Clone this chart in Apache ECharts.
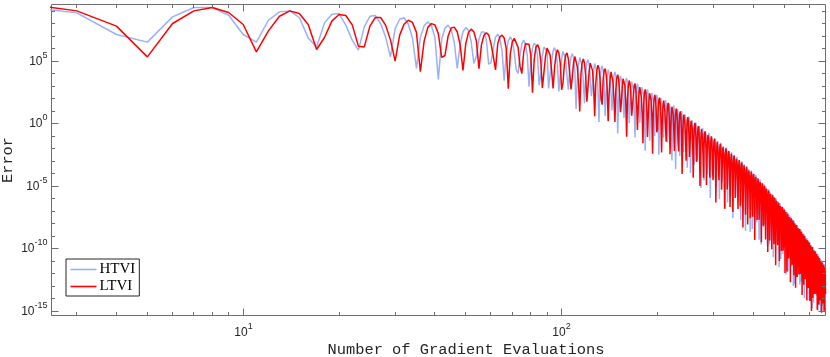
<!DOCTYPE html>
<html>
<head>
<meta charset="utf-8">
<script src="https://cdn.jsdelivr.net/npm/echarts@6/dist/echarts.min.js"></script>
<style>
html,body{margin:0;padding:0;background:#ffffff;}
#chart{width:830px;height:357px;}
</style>
</head>
<body>
<div id="chart"></div>
<script>
// ---------- data (values are log10 of the error) ----------
const firstEvaluation = 2;   // x of the first entry; each next entry is one more evaluation
const seriesNames = ['HTVI', 'LTVI'];

const htviLog10 = [
9.38,8.86,7.13,6.52,8.54,9.29,9.29,8.67,7.13,6.52,
8.27,8.94,9.02,8.49,6.86,6.14,8.06,8.75,8.81,7.88,
6.68,5.88,7.74,8.59,8.65,8.01,6.94,5.34,7.60,8.35,
8.47,7.95,6.85,4.42,6.90,7.84,8.14,7.85,6.90,3.54,
6.73,7.63,7.88,7.50,6.50,4.42,6.34,7.35,7.68,7.45,
6.55,4.82,5.42,6.72,7.34,7.34,6.72,4.76,4.86,6.01,
6.91,7.16,6.80,5.80,3.43,5.69,6.64,6.94,6.64,5.70,
4.30,4.02,5.43,6.38,6.68,6.38,5.45,2.95,4.96,6.00,
6.44,6.26,5.46,3.08,3.98,5.38,6.13,6.25,5.78,2.82,
3.90,4.90,5.80,
6.08,5.74,4.76,2.57,3.94,5.20,5.78,5.74,5.09,3.75,2.71,4.42,5.33,
5.60,5.26,4.27,1.18,3.45,4.71,5.30,5.26,4.60,3.27,1.63,3.95,4.86,
5.12,4.78,3.79,2.20,2.96,4.23,4.81,4.77,4.11,2.77,0.13,3.45,4.36,
4.62,4.29,3.30,0.61,2.47,3.74,4.32,4.28,3.62,2.29,1.05,2.96,3.87,
4.13,3.80,2.81,-0.78,1.98,3.25,3.83,3.79,3.14,1.80,0.46,2.47,3.39,
3.65,3.32,2.33,0.05,1.51,2.78,3.36,3.33,2.67,1.34,-1.10,2.01,2.93,
3.19,2.86,1.87,0.08,1.05,2.31,2.90,2.86,2.21,0.87,-2.16,1.55,2.47,
2.74,2.40,1.42,-1.37,0.60,1.87,2.46,2.42,1.77,0.44,-0.99,1.13,2.04,
2.31,1.98,1.00,-2.48,0.18,1.45,2.04,2.01,1.36,0.02,-1.11,0.71,1.63,
1.89,1.56,0.57,-1.51,-0.24,1.02,1.61,1.57,0.92,-0.41,-2.95,0.27,1.18,
1.45,1.12,0.13,-3.65,-0.69,0.58,1.17,1.13,0.48,-0.86,-2.59,-0.17,0.74,
1.01,0.67,-0.31,-2.29,-1.13,0.14,0.72,0.69,0.04,-1.30,-3.53,-0.62,0.30,
0.56,0.23,-0.76,-3.95,-1.58,-0.32,0.26,0.22,-0.43,-1.77,-3.30,-1.09,-0.17,
0.09,-0.25,-1.23,-3.02,-2.05,-0.79,-0.20,-0.23,-0.89,-2.22,-5.15,-1.54,-0.62,
-0.35,-0.68,-1.67,-4.55,-2.48,-1.21,-0.62,-0.65,-1.31,-2.64,-4.07,-1.95,-1.03,
-0.76,-1.09,-2.07,-5.95,-2.88,-1.61,-1.02,-1.05,-1.70,-3.03,-4.36,-2.34,-1.42,
-1.15,-1.48,-2.46,-5.04,-3.27,-2.00,-1.41,-1.44,-2.09,-3.42,-6.05,-2.73,-1.81,
-1.54,-1.86,-2.84,-4.72,-3.65,-2.38,-1.79,-1.82,-2.47,-3.80,-6.83,-3.11,-2.18,
-1.91,-2.24,-3.22,-6.30,-4.03,-2.76,-2.17,-2.20,-2.84,-4.17,-5.80,-3.48,-2.56,
-2.29,-2.62,-3.59,-7.57,-4.40,-3.13,-2.53,-2.56,-3.21,-4.54,-5.87,-3.84,-2.92,
-2.65,-2.98,-3.96,-6.23,-4.76,-3.49,-2.90,-2.93,-3.57,-4.90,-7.73,-4.21,-3.29,
-3.01,-3.34,-4.32,-7.10,-5.13,-3.85,-3.26,-3.29,-3.94,-5.27,-8.59,-4.57,-3.65,
-3.38,-3.71,-4.68,-6.86,-5.49,-4.22,-3.63,-3.65,-4.30,-5.63,-8.66,-4.93,-4.01,
-3.74,-4.07,-5.04,-8.42,-5.85,-4.57,-3.98,-4.01,-4.66,-5.99,-7.21,-5.29,-4.37,
-4.10,-4.43,-5.41,-7.88,-6.21,-4.94,-4.35,-4.38,-5.03,-6.36,-9.28,-5.66,-4.74,
-4.47,-4.80,-5.78,-9.66,-6.59,-5.32,-4.72,-4.75,-5.40,-6.73,-8.26,-6.04,-5.12,
-4.85,-5.18,-6.16,-8.23,-6.96,-5.69,-5.10,-5.13,-5.78,-7.11,-9.84,-6.42,-5.50,
-5.22,-5.55,-6.53,-9.61,-7.34,-6.07,-5.48,-5.51,-6.16,-7.49,-9.41,-6.79,-5.87,
-5.60,-5.93,-6.91,-10.69,-7.72,-6.45,-5.86,-5.88,-6.53,-7.86,-9.49,-7.17,-6.25,
-5.98,-6.31,-7.29,-9.57,-8.09,-6.82,-6.23,-6.26,-6.91,-8.24,-11.47,-7.54,-6.62,
-6.35,-6.68,-7.66,-10.83,-8.46,-7.19,-6.60,-6.62,-7.27,-8.60,-10.43,-7.90,-6.98,
-6.71,-7.03,-8.01,-9.99,-8.81,-7.54,-6.95,-6.97,-7.62,-8.95,-12.07,-8.25,-7.33,
-7.06,-7.38,-8.36,-11.84,-9.16,-7.89,-7.30,-7.32,-7.97,-9.30,-10.73,-8.60,-7.68,
-7.41,-7.73,-8.71,-11.39,-9.51,-8.24,-7.65,-7.68,-8.32,-9.65,-12.98,-8.95,-8.03,
-7.76,-8.08,-9.06,-12.84,-9.87,-8.59,-8.00,-8.03,-8.67,-10.00,-11.62,-9.30,-8.37,
-8.10,-8.43,-9.40,-11.58,-10.20,-8.93,-8.34,-8.36,-9.01,-10.33,-12.86,-9.64,-8.71,
-8.44,-8.77,-9.75,-12.62,-10.55,-9.28,-8.68,-8.71,-9.36,-10.68,-12.41,-9.99,-9.07,
-8.79,-9.12,-10.10,-13.97,-10.90,-9.63,-9.03,-9.06,-9.71,-11.04,-12.36,-10.34,-9.42,
-9.14,-9.47,-10.45,-13.02,-11.25,-9.98,-9.38,-9.41,-10.06,-11.39,-14.11,-10.69,-9.77,
-9.49,-9.82,-10.80,-13.18,-11.60,-10.33,-9.74,-9.76,-10.41,-11.74,-14.76,-11.04,-10.12,
-9.84,-10.17,-11.15,-14.32,-11.95,-10.68,-10.09,-10.11,-10.76,-12.09,-13.51,-11.39,-10.46,
-10.19,-10.52,-11.49,-13.77,-12.30,-11.02,-10.43,-10.46,-11.10,-12.43,-14.96,-11.73,-10.81,
-10.54,-10.86,-11.84,-14.52,-12.65,-11.37,-10.78,-10.81,-11.45,-12.78,-15.01,-12.08,-11.16,
-10.89,-11.21,-12.19,-14.57,-13.00,-11.72,-11.13,-11.16,-11.80,-13.13,-15.00,-12.43,-11.51,
-11.24,-11.56,-12.54,-14.72,-13.34,-12.07,-11.48,-11.50
];

const ltviLog10 = [
9.61,9.02,7.80,5.34,8.01,9.02,9.29,8.89,7.93,5.74,
7.42,8.59,9.02,8.81,7.93,5.93,6.89,8.22,8.73,8.65,
7.90,6.20,6.14,7.80,8.49,8.49,7.88,6.70,5.00,7.08,
7.95,8.27,8.10,7.30,4.15,6.60,7.70,8.00,7.90,7.20,
5.30,5.45,7.00,7.65,7.72,7.35,6.30,4.25,6.40,7.30,
7.56,7.35,6.60,4.40,6.30,7.05,7.27,7.10,6.40,5.40,
4.30,6.40,6.95,7.08,6.85,6.00,2.80,5.60,6.55,6.82,
6.70,6.10,4.60,4.00,5.70,6.40,6.54,6.35,5.50,2.47,
5.10,6.10,
6.33,6.00,5.02,2.85,4.12,5.38,6.05,6.07,5.48,4.25,2.81,4.48,5.49,5.91,5.67,4.84,2.70,3.26,4.72,5.49,5.65,5.16,4.07,2.73,3.70,4.86,5.37,5.28,4.55,3.21,0.98,3.99,4.90,
5.17,4.83,3.85,1.76,2.92,4.18,4.84,4.85,4.26,3.03,0.59,3.25,4.26,4.67,4.43,3.60,1.96,1.52,3.49,4.25,4.41,3.92,2.84,0.20,2.46,3.62,4.14,4.05,3.31,1.97,0.13,2.75,3.66,
3.92,3.58,2.60,0.91,1.67,2.94,3.60,3.61,3.02,1.79,-1.05,2.02,3.03,3.45,3.21,2.38,0.64,0.71,2.27,3.04,3.20,2.71,1.63,-0.51,1.26,2.42,2.93,2.85,2.11,0.78,-1.56,1.56,2.47,
2.74,2.40,1.42,-1.06,0.50,1.77,2.43,2.45,1.87,0.64,-2.40,0.87,1.89,2.31,2.08,1.24,-0.69,-0.42,1.15,1.92,2.08,1.60,0.52,-2.31,0.16,1.32,1.84,1.76,1.03,-0.31,-1.44,0.47,1.39,
1.66,1.32,0.34,-2.45,-0.58,0.69,1.35,1.37,0.78,-0.45,-2.18,-0.22,0.80,1.21,0.98,0.15,-1.39,-2.22,0.04,0.81,0.98,0.49,-0.59,-4.03,-0.96,0.21,0.72,0.64,-0.10,-1.43,-2.96,-0.65,0.27,
0.53,0.20,-0.79,-2.67,-1.71,-0.45,0.22,0.23,-0.36,-1.60,-4.33,-1.37,-0.35,0.06,-0.17,-1.01,-3.05,-2.78,-1.12,-0.35,-0.19,-0.67,-1.75,-4.99,-2.12,-0.95,-0.44,-0.52,-1.25,-2.58,-4.32,-1.80,-0.88,
-0.61,-0.94,-1.92,-4.91,-2.84,-1.57,-0.90,-0.88,-1.46,-2.69,-4.32,-2.45,-1.43,-1.01,-1.24,-2.07,-3.90,-4.53,-2.16,-1.39,-1.22,-1.70,-2.78,-6.31,-3.14,-1.97,-1.45,-1.53,-2.26,-3.59,-4.52,-2.80,-1.88,
-1.61,-1.94,-2.91,-5.29,-3.82,-2.55,-1.88,-1.86,-2.44,-3.67,-6.80,-3.43,-2.41,-1.98,-2.21,-3.04,-5.27,-4.70,-3.13,-2.36,-2.19,-2.67,-3.74,-6.67,-4.10,-2.93,-2.41,-2.49,-3.22,-4.54,-7.07,-3.75,-2.83,
-2.55,-2.88,-3.86,-5.94,-4.77,-3.49,-2.82,-2.80,-3.38,-4.61,-6.83,-4.36,-3.34,-2.92,-3.15,-3.97,-6.60,-6.03,-4.06,-3.29,-3.11,-3.59,-4.67,-8.30,-5.03,-3.85,-3.33,-3.41,-4.14,-5.47,-7.29,-4.67,-3.75,
-3.48,-3.81,-4.78,-8.06,-5.69,-4.42,-3.75,-3.72,-4.30,-5.53,-7.56,-5.28,-4.26,-3.84,-4.07,-4.89,-6.82,-7.45,-4.97,-4.20,-4.03,-4.51,-5.59,-9.31,-5.94,-4.77,-4.25,-4.33,-5.06,-6.38,-7.71,-5.59,-4.67,
-4.40,-4.73,-5.71,-7.68,-6.61,-5.34,-4.67,-4.65,-5.23,-6.46,-9.49,-6.22,-5.19,-4.77,-5.00,-5.83,-8.16,-7.99,-5.92,-5.15,-4.98,-5.46,-6.53,-9.26,-6.89,-5.72,-5.20,-5.28,-6.01,-7.34,-10.27,-6.55,-5.62,
-5.35,-5.68,-6.66,-9.34,-7.57,-6.30,-5.63,-5.61,-6.19,-7.41,-10.04,-7.17,-6.15,-5.73,-5.96,-6.79,-8.52,-9.65,-6.88,-6.10,-5.93,-6.41,-7.49,-11.32,-7.85,-6.68,-6.16,-6.24,-6.97,-8.29,-9.72,-7.50,-6.58,
-6.31,-6.64,-7.62,-10.99,-8.52,-7.25,-6.58,-6.56,-7.13,-8.36,-10.19,-8.12,-7.09,-6.67,-6.90,-7.73,-10.15,-9.68,-7.81,-7.03,-6.86,-7.34,-8.41,-11.94,-8.77,-7.59,-7.07,-7.15,-7.87,-9.20,-11.83,-8.41,-7.48,
-7.21,-7.54,-8.51,-10.79,-9.42,-8.14,-7.47,-7.45,-8.03,-9.25,-12.68,-9.01,-7.98,-7.56,-7.79,-8.61,-10.64,-11.27,-8.70,-7.92,-7.75,-8.23,-9.30,-12.13,-9.66,-8.48,-7.96,-8.04,-8.77,-10.09,-13.12,-9.30,-8.37,
-8.10,-8.42,-9.40,-12.27,-10.30,-9.03,-8.35,-8.33,-8.90,-10.13,-12.06,-9.88,-8.86,-8.43,-8.66,-9.49,-12.01,-11.74,-9.57,-8.80,-8.62,-9.10,-10.18,-13.70,-10.53,-9.36,-8.83,-8.91,-9.64,-10.97,-12.89,-10.17,-9.25,
-8.97,-9.30,-10.28,-12.45,-11.18,-9.91,-9.24,-9.21,-9.79,-11.02,-14.14,-10.77,-9.75,-9.32,-9.55,-10.38,-12.30,-13.13,-10.46,-9.69,-9.51,-9.99,-11.07,-14.19,-11.42,-10.25,-9.73,-9.80,-10.53,-11.86,-14.98,-11.06,-10.14,
-9.86,-10.19,-11.17,-13.94,-12.07,-10.80,-10.12,-10.10,-10.68,-11.91,-13.63,-11.66,-10.64,-10.21,-10.44,-11.26,-13.59,-13.42,-11.34,-10.57,-10.40,-10.87,-11.95,-14.88,-12.30,-11.13,-10.61,-10.68,-11.41,-12.74,-14.46,-11.94,-11.02,
-10.75,-11.07,-12.05,-14.13,-12.95,-11.68,-11.01,-10.98,-11.56,-12.79,-15.11,-12.54,-11.52,-11.10,-11.32,-12.15,-14.38,-14.50,-12.23,-11.46,-11.28,-11.76,-12.84,-14.96,-13.19,-12.02,-11.49,-11.57,-12.30,-13.62
];

// axes
const xExtent = [2.5, 674];
const yExtentExp = [-15.34, 9.53];
const xMajorTicks = [10, 100];
const xMajorLabels = ['1', '2'];
const xMinorTicks = [3,4,5,6,7,8,9,20,30,40,50,60,70,80,90,200,300,400,500,600];
const yMajorExps = [-15, -10, -5, 0, 5];
const yMinorExps = [-14,-13,-12,-11,-9,-8,-7,-6,-4,-3,-2,-1,1,2,3,4,6,7,8,9];
const xTitle = 'Number of Gradient Evaluations';
const yTitle = 'Error';

// ---------- drawing ----------
const AX = '#6e6e6e';
const TXT = '#262626';
const SANS = '"Liberation Sans", Arial, Helvetica, sans-serif';
const MONO = '"Liberation Mono", "Courier New", monospace';
const SERIF = '"Liberation Serif", "Times New Roman", serif';
const BLUE = '#98b2f8';
const RED = '#ff0000';

function toPairs(logs) {
  return logs.map((e, i) => [firstEvaluation + i, Math.pow(10, e)]);
}

function powLabel(x, y, exp, align) {
  return {
    type: 'text', silent: true,
    style: {
      x: x, y: y, text: '{b|10}{s|' + exp + '}', align: align, verticalAlign: 'middle',
      rich: {
        b: { fontFamily: SANS, fontSize: 12, lineHeight: 16, verticalAlign: 'bottom', fill: TXT },
        s: { fontFamily: SANS, fontSize: 9, lineHeight: 9, verticalAlign: 'top', fill: TXT }
      }
    }
  };
}

function renderFrame(params, api) {
  const yLo = Math.pow(10, yExtentExp[0]);
  const yHi = Math.pow(10, yExtentExp[1]);
  const pLo = api.coord([xExtent[0], yLo]);
  const pHi = api.coord([xExtent[1], yHi]);
  const left = pLo[0], bottom = pLo[1], right = pHi[0], top = pHi[1];
  const snap = v => Math.round(v - 0.5) + 0.5;
  const kids = [];
  const seg = (x1, y1, x2, y2) => kids.push({
    type: 'line', silent: true,
    shape: { x1: x1, y1: y1, x2: x2, y2: y2 },
    style: { stroke: AX, lineWidth: 1 }
  });
  const MAJ = 7, MIN = 3.5;
  xMajorTicks.forEach((v, i) => {
    const x = snap(api.coord([v, yLo])[0]);
    seg(x, bottom, x, bottom - MAJ);
    seg(x, top, x, top + MAJ);
    kids.push(powLabel(x, bottom + 15, xMajorLabels[i], 'center'));
  });
  xMinorTicks.forEach(v => {
    const x = snap(api.coord([v, yLo])[0]);
    seg(x, bottom, x, bottom - MIN);
    seg(x, top, x, top + MIN);
  });
  yMajorExps.forEach(e => {
    const y = snap(api.coord([xExtent[0], Math.pow(10, e)])[1]);
    seg(left, y, left + MAJ, y);
    seg(right, y, right - MAJ, y);
    kids.push(powLabel(left - 4, y - 2, String(e), 'right'));
  });
  yMinorExps.forEach(e => {
    const y = snap(api.coord([xExtent[0], Math.pow(10, e)])[1]);
    seg(left, y, left + MIN, y);
    seg(right, y, right - MIN, y);
  });
  return { type: 'group', children: kids };
}

const chart = echarts.init(document.getElementById('chart'), null, { renderer: 'canvas' });
chart.setOption({
  animation: false,
  backgroundColor: '#ffffff',
  grid: {
    left: 51.5, top: 4.5, width: 774, height: 311,
    show: true, borderColor: AX, borderWidth: 1, backgroundColor: 'transparent'
  },
  xAxis: {
    type: 'log', logBase: 10, min: xExtent[0], max: xExtent[1],
    axisLine: { show: false }, axisTick: { show: false },
    axisLabel: { show: false }, splitLine: { show: false }
  },
  yAxis: {
    type: 'log', logBase: 10,
    min: Math.pow(10, yExtentExp[0]), max: Math.pow(10, yExtentExp[1]),
    axisLine: { show: false }, axisTick: { show: false },
    axisLabel: { show: false }, splitLine: { show: false }
  },
  legend: {
    data: [
      { name: seriesNames[0], icon: 'rect', itemStyle: { color: BLUE } },
      { name: seriesNames[1], icon: 'rect', itemStyle: { color: RED } }
    ],
    orient: 'vertical', left: 66, top: 259,
    padding: [3, 4, 2, 4.5], itemGap: 2, itemWidth: 26, itemHeight: 1.6,
    borderColor: '#262626', borderWidth: 1, borderRadius: 0, backgroundColor: '#ffffff',
    textStyle: { fontFamily: SERIF, fontSize: 15, color: '#000000', padding: [0, 0, 0, -2] }
  },
  graphic: [
    {
      type: 'text', x: 466, y: 350, silent: true,
      style: { text: xTitle, font: '15.4px ' + MONO, fill: TXT, align: 'center', verticalAlign: 'middle' }
    },
    {
      type: 'text', x: 8, y: 160, rotation: Math.PI / 2, silent: true,
      style: { text: yTitle, font: '15.4px ' + MONO, fill: TXT, align: 'center', verticalAlign: 'middle' }
    }
  ],
  series: [
    {
      name: seriesNames[0], type: 'line', data: toPairs(htviLog10),
      symbol: 'none', showSymbol: false, smooth: false, clip: true,
      lineStyle: { color: BLUE, width: 1.5 }, itemStyle: { color: BLUE }, z: 2
    },
    {
      name: seriesNames[1], type: 'line', data: toPairs(ltviLog10),
      symbol: 'none', showSymbol: false, smooth: false, clip: true,
      lineStyle: { color: RED, width: 1.5 }, itemStyle: { color: RED }, z: 3
    },
    {
      type: 'custom', coordinateSystem: 'cartesian2d', data: [[10, 1]],
      renderItem: renderFrame, clip: false, silent: true, z: 5
    }
  ]
});
</script>
</body>
</html>
